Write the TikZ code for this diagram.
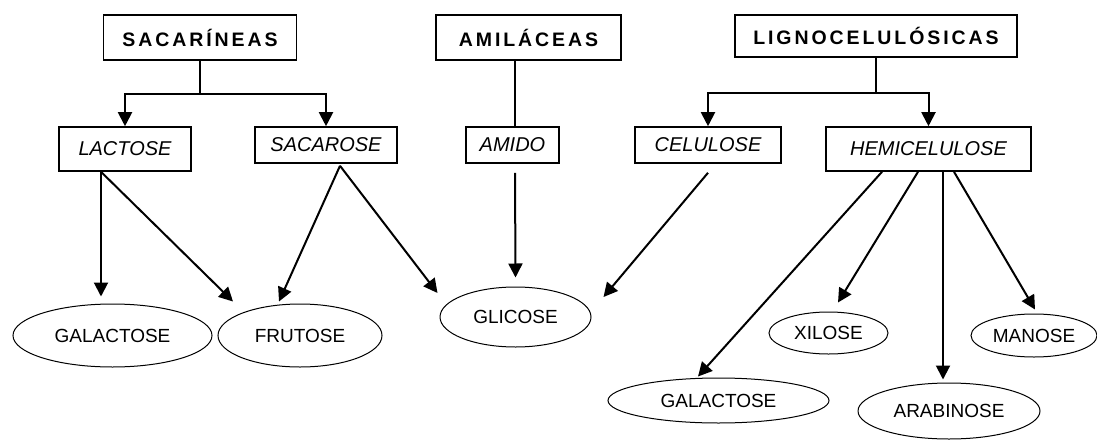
\documentclass[tikz,border=0pt]{standalone}
\usepackage{fontspec}
\setmainfont{Liberation Sans}
\newfontfamily\catfont[LetterSpace=15]{Liberation Sans}
\usetikzlibrary{arrows.meta,shapes.geometric}
\begin{document}
\begin{tikzpicture}[
		x=1pt, y=-1pt,
		catbox/.style={draw, line width=1.6pt, inner sep=0pt, minimum height=45pt,
				font=\catfont\bfseries\fontsize{19.5}{22}\selectfont},
		subbox/.style={draw, line width=1.6pt, inner sep=0pt, minimum height=36pt,
				font=\itshape\fontsize{20}{22}\selectfont},
		sugar/.style={ellipse, draw, line width=1pt, inner sep=0pt,
				font=\fontsize{19}{22}\selectfont},
		arr/.style={line width=2pt, -{Triangle[width=14pt,length=14pt]}}
	]
	\useasboundingbox (0,0) rectangle (1097,439);

	\node[catbox, minimum width=193pt] (sacarineas) at (200,37.5) {SACARÍNEAS};
	\node[catbox, minimum width=185pt] (amilaceas) at (528.5,37.5) {AMILÁCEAS};
	\node[catbox, minimum width=282pt, minimum height=42pt] (ligno) at (876,36) {LIGNOCELULÓSICAS};

	\node[subbox, minimum width=132pt, minimum height=44pt] (lactose) at (125,149) {LACTOSE};
	\node[subbox, minimum width=142pt] (sacarose) at (326,145) {SACAROSE};
	\node[subbox, minimum width=93pt] (amido) at (512.5,145) {AMIDO};
	\node[subbox, minimum width=146pt] (celulose) at (708,145) {CELULOSE};
	\node[subbox, minimum width=205pt, minimum height=44pt] (hemi) at (928.5,149) {HEMICELULOSE};

	\node[sugar, minimum width=199pt, minimum height=63pt] (galA) at (112.5,335.5) {GALACTOSE};
	\node[sugar, minimum width=164pt, minimum height=63pt] (frutose) at (300,335.5) {FRUTOSE};
	\node[sugar, minimum width=151pt, minimum height=60pt] (glicose) at (515.5,317) {GLICOSE};
	\node[sugar, minimum width=221pt, minimum height=45pt] (galB) at (718.5,400.5) {GALACTOSE};
	\node[sugar, minimum width=119pt, minimum height=42pt] (xilose) at (828.5,333) {XILOSE};
	\node[sugar, minimum width=126pt, minimum height=43pt] (manose) at (1034,335.5) {MANOSE};
	\node[sugar, minimum width=182pt, minimum height=56pt] (arabinose) at (949,411) {ARABINOSE};

	\draw[line width=2pt] (sacarineas.south) -- ++(0,33) coordinate (sacfork);
	\draw[arr] (sacfork) -| (lactose.north);
	\draw[arr] (sacfork) -| (sacarose.north);
	\draw[line width=2pt] ([xshift=2.5pt]amido.north) -- ([xshift=2.5pt]amido.north |- amilaceas.south);
	\draw[line width=2pt] (ligno.south) -- ++(0,35) coordinate (lignofork);
	\draw[arr] (lignofork) -| (celulose.north);
	\draw[arr] (lignofork) -| (hemi.north);

	\draw[arr] ([xshift=-24pt]lactose.south) -- ([xshift=-11.5pt,yshift=7pt]galA.north);
	\draw[arr] ([xshift=-24pt]lactose.south) -- ([xshift=-67pt,yshift=2pt]frutose.north);
	\draw[arr] ([xshift=14pt,yshift=-2pt]sacarose.south) -- ([xshift=-21pt,yshift=2pt]frutose.north);
	\draw[arr] ([xshift=14pt,yshift=-2pt]sacarose.south) -- ([xshift=-2pt,yshift=24pt]glicose.west);
	\draw[arr] ([xshift=2.5pt,yshift=-9pt]amido.south) -- ([yshift=9pt]glicose.north);
	\draw[arr] ([yshift=-9pt]celulose.south) -- ([xshift=12pt,yshift=20pt]glicose.east);
	\draw[arr] ([xshift=-46.5pt]hemi.south) -- ([xshift=-20.5pt,yshift=1pt]galB.north);
	\draw[arr] ([xshift=-10.5pt]hemi.south) -- ([xshift=9.5pt,yshift=9pt]xilose.north);
	\draw[arr] ([xshift=14.5pt]hemi.south) -- ([xshift=-6pt,yshift=3pt]arabinose.north);
	\draw[arr] ([xshift=25.5pt]hemi.south) -- ([xshift=1pt,yshift=4pt]manose.north);
\end{tikzpicture}
\end{document}
